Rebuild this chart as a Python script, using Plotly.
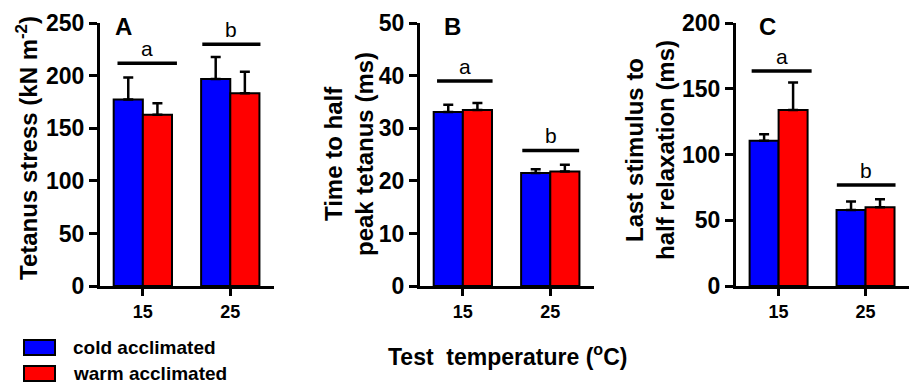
import plotly.graph_objects as go

W, H = 909, 390

temps = ["15", "25"]
series_names = ["cold acclimated", "warm acclimated"]
colors = ["#0000FF", "#FF0000"]

# Panel A: tetanus stress (kN m-2)
a_cold = [177.5, 197.0]
a_cold_err = [21.0, 21.0]
a_warm = [163.0, 183.5]
a_warm_err = [11.0, 20.5]
# Panel B: time to half peak tetanus (ms)
b_cold = [33.1, 21.5]
b_cold_err = [1.4, 0.7]
b_warm = [33.5, 21.8]
b_warm_err = [1.35, 1.3]
# Panel C: last stimulus to half relaxation (ms)
c_cold = [110.5, 57.8]
c_cold_err = [5.0, 6.6]
c_warm = [134.0, 60.0]
c_warm_err = [21.0, 6.0]

sig_letters = ["a", "b"]
a_sig = [212, 230]
b_sig = [39.0, 25.8]
c_sig = [163.7, 76.8]

y_ranges = [[0, 250], [0, 50], [0, 200]]
y_dticks = [50, 10, 50]
panel_labels = ["A", "B", "C"]
y_titles = ["Tetanus stress (kN m<sup>-2</sup>)",
            "Time to half<br>peak tetanus (ms)",
            "Last stimulus to<br>half relaxation (ms)"]
x_title = "Test  temperature (<sup>o</sup>C)"

FONT = "Liberation Sans, Arial, sans-serif"

panels = [
    (a_cold, a_cold_err, a_warm, a_warm_err, a_sig),
    (b_cold, b_cold_err, b_warm, b_warm_err, b_sig),
    (c_cold, c_cold_err, c_warm, c_warm_err, c_sig),
]

# pixel layout
x_dom_px = [(100, 274), (420, 594), (736, 909)]
y_dom = [1 - 286 / H, 1 - 23.3 / H]
title_x_px = [27, 349, 650]
title_y_px = [148, 154, 150]
label_x_px = [113, 442, 757]
sig_spans = [[(-0.29, 0.39), (-0.32, 0.345)],
             [(-0.295, 0.34), (-0.32, 0.33)],
             [(-0.31, 0.38), (-0.33, 0.345)]]

fig = go.Figure()
shapes = []
annotations = []

for i, (cold, cold_err, warm, warm_err, sig) in enumerate(panels):
    xa = "x" if i == 0 else f"x{i+1}"
    ya = "y" if i == 0 else f"y{i+1}"
    for name, vals, errs, col in [(series_names[0], cold, cold_err, colors[0]),
                                  (series_names[1], warm, warm_err, colors[1])]:
        fig.add_trace(go.Bar(
            x=temps, y=vals, name=name, xaxis=xa, yaxis=ya,
            marker=dict(color=col, line=dict(color="black", width=2)),
            error_y=dict(type="data", array=errs, arrayminus=[0] * len(errs),
                         symmetric=False, color="black", thickness=2.5, width=5),
            showlegend=False,
        ))
    x0, x1 = x_dom_px[i]
    axkey = "xaxis" if i == 0 else f"xaxis{i+1}"
    aykey = "yaxis" if i == 0 else f"yaxis{i+1}"
    fig.update_layout(**{
        axkey: dict(domain=[x0 / W, x1 / W], anchor=ya, type="category",
                    range=[-0.49, 1.5], showline=True, linecolor="black",
                    linewidth=3, ticks="outside", ticklen=7, tickwidth=3,
                    tickcolor="black", showgrid=False, zeroline=False,
                    automargin=False,
                    tickfont=dict(family=FONT, size=18, color="black", weight="bold")),
        aykey: dict(domain=y_dom, anchor=xa, range=y_ranges[i], dtick=y_dticks[i],
                    showline=True, linecolor="black", linewidth=3, ticks="outside",
                    ticklen=8, tickwidth=3, tickcolor="black", showgrid=False,
                    zeroline=False, automargin=False,
                    tickfont=dict(family=FONT, size=23, color="black", weight="bold")),
    })
    # significance lines and letters
    for j, (yv, letter) in enumerate(zip(sig, sig_letters)):
        lo, hi = sig_spans[i][j]
        shapes.append(dict(type="line", xref=xa, yref=ya, x0=j + lo, x1=j + hi,
                           y0=yv, y1=yv, line=dict(color="black", width=3.5)))
        annotations.append(dict(xref=xa, yref=ya, x=j + (lo + hi) / 2, y=yv,
                                text=letter, showarrow=False, yanchor="bottom",
                                yshift=1, font=dict(family=FONT, size=21, color="black")))
    # axis title
    annotations.append(dict(xref="paper", yref="paper", x=title_x_px[i] / W,
                            y=1 - title_y_px[i] / H, text=y_titles[i], textangle=-90,
                            showarrow=False, xanchor="center", yanchor="middle",
                            font=dict(family=FONT, size=24, color="black", weight="bold")))
    # panel label
    annotations.append(dict(xref="paper", yref="paper", x=label_x_px[i] / W,
                            y=1 - 27 / H, text=panel_labels[i], showarrow=False,
                            xanchor="left", yanchor="middle",
                            font=dict(family=FONT, size=24, color="black", weight="bold")))

# x title
annotations.append(dict(xref="paper", yref="paper", x=508 / W, y=1 - 355 / H,
                        text=x_title, showarrow=False, xanchor="center", yanchor="middle",
                        font=dict(family=FONT, size=23, color="black", weight="bold")))

# legend (manual)
for k, (name, col) in enumerate(zip(series_names, colors)):
    ytop = 340 + k * 26
    shapes.append(dict(type="rect", xref="paper", yref="paper",
                       x0=24 / W, x1=55 / W, y0=1 - (ytop + 15) / H, y1=1 - ytop / H,
                       fillcolor=col, line=dict(color="black", width=2)))
    annotations.append(dict(xref="paper", yref="paper", x=71 / W, y=1 - (ytop + 7.5) / H,
                            text=name, showarrow=False, xanchor="left", yanchor="middle",
                            font=dict(family=FONT, size=19, color="black", weight="bold")))

fig.update_layout(
    width=W, height=H, margin=dict(l=0, r=0, t=0, b=0, pad=0, autoexpand=False),
    paper_bgcolor="white", plot_bgcolor="white",
    barmode="group", bargap=0.333, bargroupgap=0,
    shapes=shapes, annotations=annotations,
)

fig.write_html("out.html", config={"displayModeBar": False},
               post_script="document.body.style.margin='0';document.body.style.overflow='hidden';")
